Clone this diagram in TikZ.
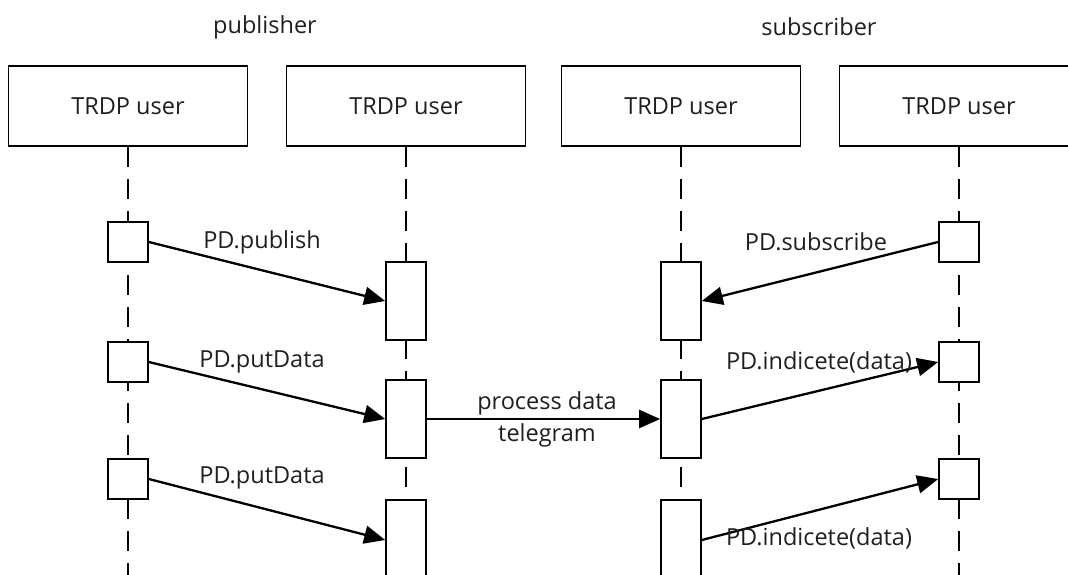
\documentclass[tikz,border=0pt]{standalone}
\usepackage{fontspec}
\setmainfont{Open Sans}
\usetikzlibrary{arrows.meta}
\begin{document}
\begin{tikzpicture}[x=1pt,y=-1pt,
  every node/.style={font=\fontsize{23.5}{28}\selectfont, text=black!88},
  hdr/.style={draw, line width=1.6pt, fill=white, minimum width=239pt, minimum height=80pt, inner sep=0pt},
  act/.style={draw, line width=1.6pt, fill=white, minimum width=40pt, minimum height=78pt, inner sep=0pt},
  actlong/.style={act, minimum height=80pt},
  sq/.style={draw, line width=1.6pt, fill=white, minimum width=40pt, minimum height=40pt, inner sep=0pt},
  life/.style={line width=2.6pt, dash pattern=on 20pt off 12pt},
  msg/.style={line width=2.3pt, -{Triangle[length=21pt,width=18pt]}},
  lbl/.style={inner sep=0pt}]
\useasboundingbox (0,0) rectangle (1068,574);

% titles
\node[lbl] (tpub) at (265,27) {publisher};
\node[lbl] (tsub) at (819,27) {subscriber};

% header boxes
\node[hdr] (u1) at (128,106) {TRDP user};
\node[hdr] (u2) at (406,106) {TRDP user};
\node[hdr] (u3) at (681,106) {TRDP user};
\node[hdr] (u4) at (959,106) {TRDP user};

% lifelines
\coordinate (e1) at (128,580);
\coordinate (e2) at (406,580);
\coordinate (e3) at (681,580);
\coordinate (e4) at (959,580);
\draw[life] (u1.south) -- (e1);
\draw[life] (u2.south) -- (e2);
\draw[life] (u3.south) -- (e3);
\draw[life] (u4.south) -- (e4);

% activations
\node[sq] (s1) at (128,242) {};
\node[sq] (s2) at (128,362) {};
\node[sq] (s3) at (128,479) {};
\node[act] (a1) at (406,301) {};
\node[act] (a2) at (406,419) {};
\node[actlong] (a3) at (406,540) {};
\node[act] (d1) at (681,301) {};
\node[act] (d2) at (681,419) {};
\node[actlong] (d3) at (681,540) {};
\node[sq] (r1) at (959,242) {};
\node[sq] (r2) at (959,362) {};
\node[sq] (r3) at (959,479) {};

% messages
\draw[msg] (s1.east) -- (a1.west);
\draw[msg] (s2.east) -- (a2.west);
\draw[msg] (s3.east) -- (a3.west);
\draw[msg] (r1.west) -- (d1.east);
\draw[msg] (a2.east) -- (d2.west);
\draw[msg] (d2.east) -- (r2.west);
\draw[msg] (d3.east) -- (r3.west);

% labels
\node[lbl] (l1) at (262,242) {PD.publish};
\node[lbl] (l2) at (262,362) {PD.putData};
\node[lbl] (l3) at (262,478) {PD.putData};
\node[lbl] (l4) at (547,403) {process data};
\node[lbl] (l5) at (547,435) {telegram};
\node[lbl] (l6) at (816,242) {PD.subscribe};
\node[lbl] (l7) at (819,362) {PD.indicete(data)};
\node[lbl] (l8) at (819,538) {PD.indicete(data)};
\end{tikzpicture}
\end{document}
